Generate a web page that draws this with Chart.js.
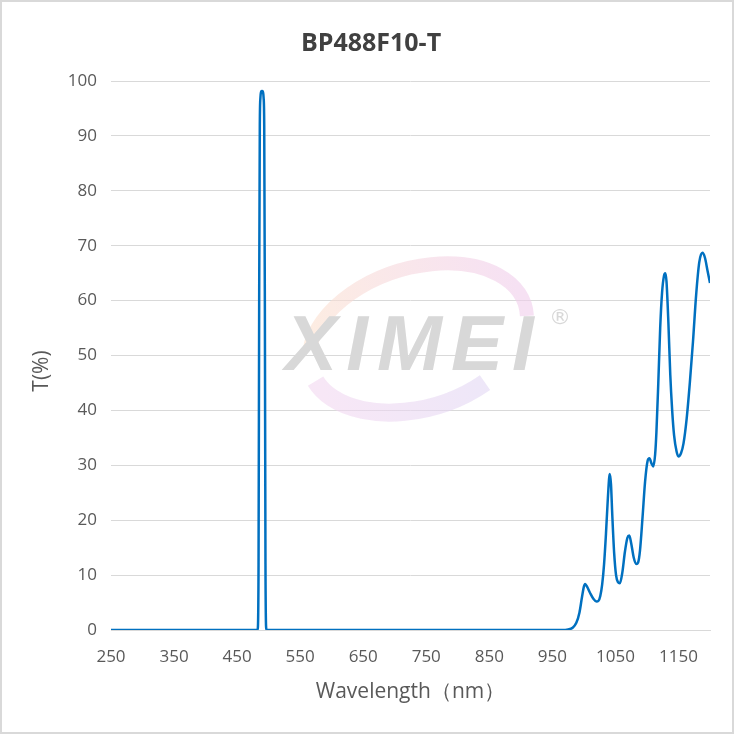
<!DOCTYPE html>
<html lang="en">
<head>
    <meta charset="UTF-8">
    <title>BP488F10-T</title>
    <style>
        body { margin: 0; background: #fff; }
        #wrap { width: 734px; height: 734px; }
    </style>
</head>
<body>
    <div id="wrap">
        <canvas id="myChart" width="734" height="734"></canvas>
    </div>

    <script src="https://cdn.jsdelivr.net/npm/chart.js"></script>

    <script>
        // wavelength (nm) and transmission (%)
        const wavelength = [250, 482, 483, 484, 485, 486, 487, 488, 489, 490, 491, 492, 493, 494, 495, 496, 497,
            965, 975, 982, 988, 993, 997, 1000, 1002, 1005, 1010, 1015, 1020, 1023, 1026, 1029, 1032, 1035, 1038,
            1041, 1043, 1045, 1048, 1051, 1054, 1057, 1061, 1065, 1069, 1072, 1075, 1079, 1083, 1086, 1089, 1093,
            1097, 1101, 1104, 1107, 1110, 1113, 1115, 1118, 1121, 1124, 1127, 1129, 1131, 1134, 1137, 1140, 1143,
            1147, 1150, 1154, 1158, 1163, 1168, 1173, 1178, 1183, 1188, 1192, 1196, 1200];
        const transmission = [0, 0, 0.5, 12, 60, 92, 97, 98, 98.2, 98.2, 98, 97, 92, 60, 12, 0.5, 0,
            0, 0.1, 0.4, 1.3, 3.2, 6, 7.9, 8.4, 7.9, 6.7, 5.7, 5.2, 5.3, 6.2, 8.3, 12, 17.5, 24,
            28.4, 26.5, 21, 14, 10, 8.7, 8.5, 10.5, 14.2, 16.8, 17.2, 15.8, 13.2, 12, 12.3, 14.5, 20.5,
            27, 30.8, 31.3, 30.4, 29.8, 32, 36, 45, 55, 61.5, 64.5, 65, 63.5, 56, 46.5, 40, 35.5,
            32.5, 31.6, 32.2, 34, 38.5, 45, 52.5, 61, 67, 68.7, 67.8, 65.5, 63.2];
        const xTicks = [250, 350, 450, 550, 650, 750, 850, 950, 1050, 1150];

        const points = wavelength.map((w, i) => ({ x: w, y: transmission[i] }));

        const textColor = '#595959';
        const gridColor = '#d9d9d9';
        const fontFamily = '"Open Sans", sans-serif';

        // faint logo behind the curve, y title and outer frame
        const decor = {
            id: 'decor',
            beforeDatasetsDraw(chart) {
                const c = chart.ctx;
                c.save();
                // swoosh ring
                c.translate(418, 338);
                c.rotate(-0.3);
                c.lineWidth = 14;
                let g = c.createLinearGradient(-110, 0, 110, 0);
                g.addColorStop(0, 'rgba(252,225,205,0.6)');
                g.addColorStop(1, 'rgba(240,205,235,0.6)');
                c.strokeStyle = g;
                c.beginPath();
                c.ellipse(0, 0, 112, 70, 0, Math.PI * 1.1, Math.PI * 2.05);
                c.stroke();
                g = c.createLinearGradient(-110, 0, 110, 0);
                g.addColorStop(0, 'rgba(242,215,240,0.6)');
                g.addColorStop(1, 'rgba(220,215,245,0.6)');
                c.strokeStyle = g;
                c.lineWidth = 18;
                c.beginPath();
                c.ellipse(0, 0, 112, 70, 0, Math.PI * 0.35, Math.PI * 0.95);
                c.stroke();
                c.restore();

                c.save();
                c.fillStyle = 'rgb(216,216,216)';
                c.font = 'italic bold 78px "Liberation Sans", Arial, sans-serif';
                c.letterSpacing = '9px';
                c.textAlign = 'center';
                c.textBaseline = 'alphabetic';
                c.fillText('XIMEI', 414, 370);
                c.letterSpacing = '0px';
                c.font = '22px "DejaVu Sans", sans-serif';
                c.textBaseline = 'middle';
                c.fillText('®', 560, 318);
                c.restore();
            },
            afterDraw(chart) {
                const c = chart.ctx;
                c.save();
                c.fillStyle = textColor;
                c.font = '21px ' + fontFamily;
                c.textAlign = 'center';
                c.textBaseline = 'middle';
                c.translate(42, 371);
                c.rotate(-Math.PI / 2);
                c.fillText('T(%)', 0, 0);
                c.restore();

                c.save();
                c.strokeStyle = '#d9d9d9';
                c.lineWidth = 2;
                c.strokeRect(1, 1, 732, 732);
                c.restore();
            }
        };

        const ctx = document.getElementById('myChart');

        new Chart(ctx, {
            type: 'line',
            data: {
                datasets: [{
                    data: points,
                    borderColor: '#0070c0',
                    borderWidth: 2.5,
                    pointRadius: 0,
                    fill: false,
                    cubicInterpolationMode: 'monotone'
                }]
            },
            options: {
                responsive: false,
                animation: false,
                layout: { padding: { top: 0, right: 0, bottom: 0, left: 8 } },
                plugins: {
                    legend: { display: false },
                    tooltip: { enabled: false },
                    title: {
                        display: true,
                        text: 'BP488F10-T',
                        color: '#404040',
                        font: { family: fontFamily, size: 25, weight: 'bold' },
                        padding: { top: 29, bottom: 22 }
                    }
                },
                scales: {
                    x: {
                        type: 'linear',
                        min: 250,
                        max: 1200,
                        afterFit(scale) { scale.height = 104; },
                        afterBuildTicks(scale) { scale.ticks = xTicks.map(v => ({ value: v })); },
                        grid: { display: false, drawTicks: false },
                        border: { display: true, color: gridColor, width: 1 },
                        ticks: {
                            color: textColor,
                            padding: 17,
                            maxRotation: 0,
                            autoSkip: false,
                            callback: v => String(v),
                            font: { family: fontFamily, size: 17 }
                        },
                        title: {
                            display: true,
                            text: 'Wavelength（nm）',
                            color: textColor,
                            font: { family: fontFamily, size: 21 },
                            padding: { top: 4, bottom: 29 }
                        }
                    },
                    y: {
                        min: 0,
                        max: 100,
                        afterFit(scale) { scale.width = 103; },
                        grid: { color: gridColor, lineWidth: 1, drawTicks: false },
                        border: { display: false },
                        ticks: {
                            stepSize: 10,
                            color: textColor,
                            padding: 14,
                            font: { family: fontFamily, size: 17 }
                        },
                        title: { display: false }
                    },
                    // empty right margin so the plot ends where the reference does
                    yRight: {
                        position: 'right',
                        afterFit(scale) { scale.width = 24; },
                        grid: { display: false, drawTicks: false },
                        border: { display: false },
                        ticks: { display: false }
                    }
                }
            },
            plugins: [decor]
        });
    </script>
</body>
</html>
